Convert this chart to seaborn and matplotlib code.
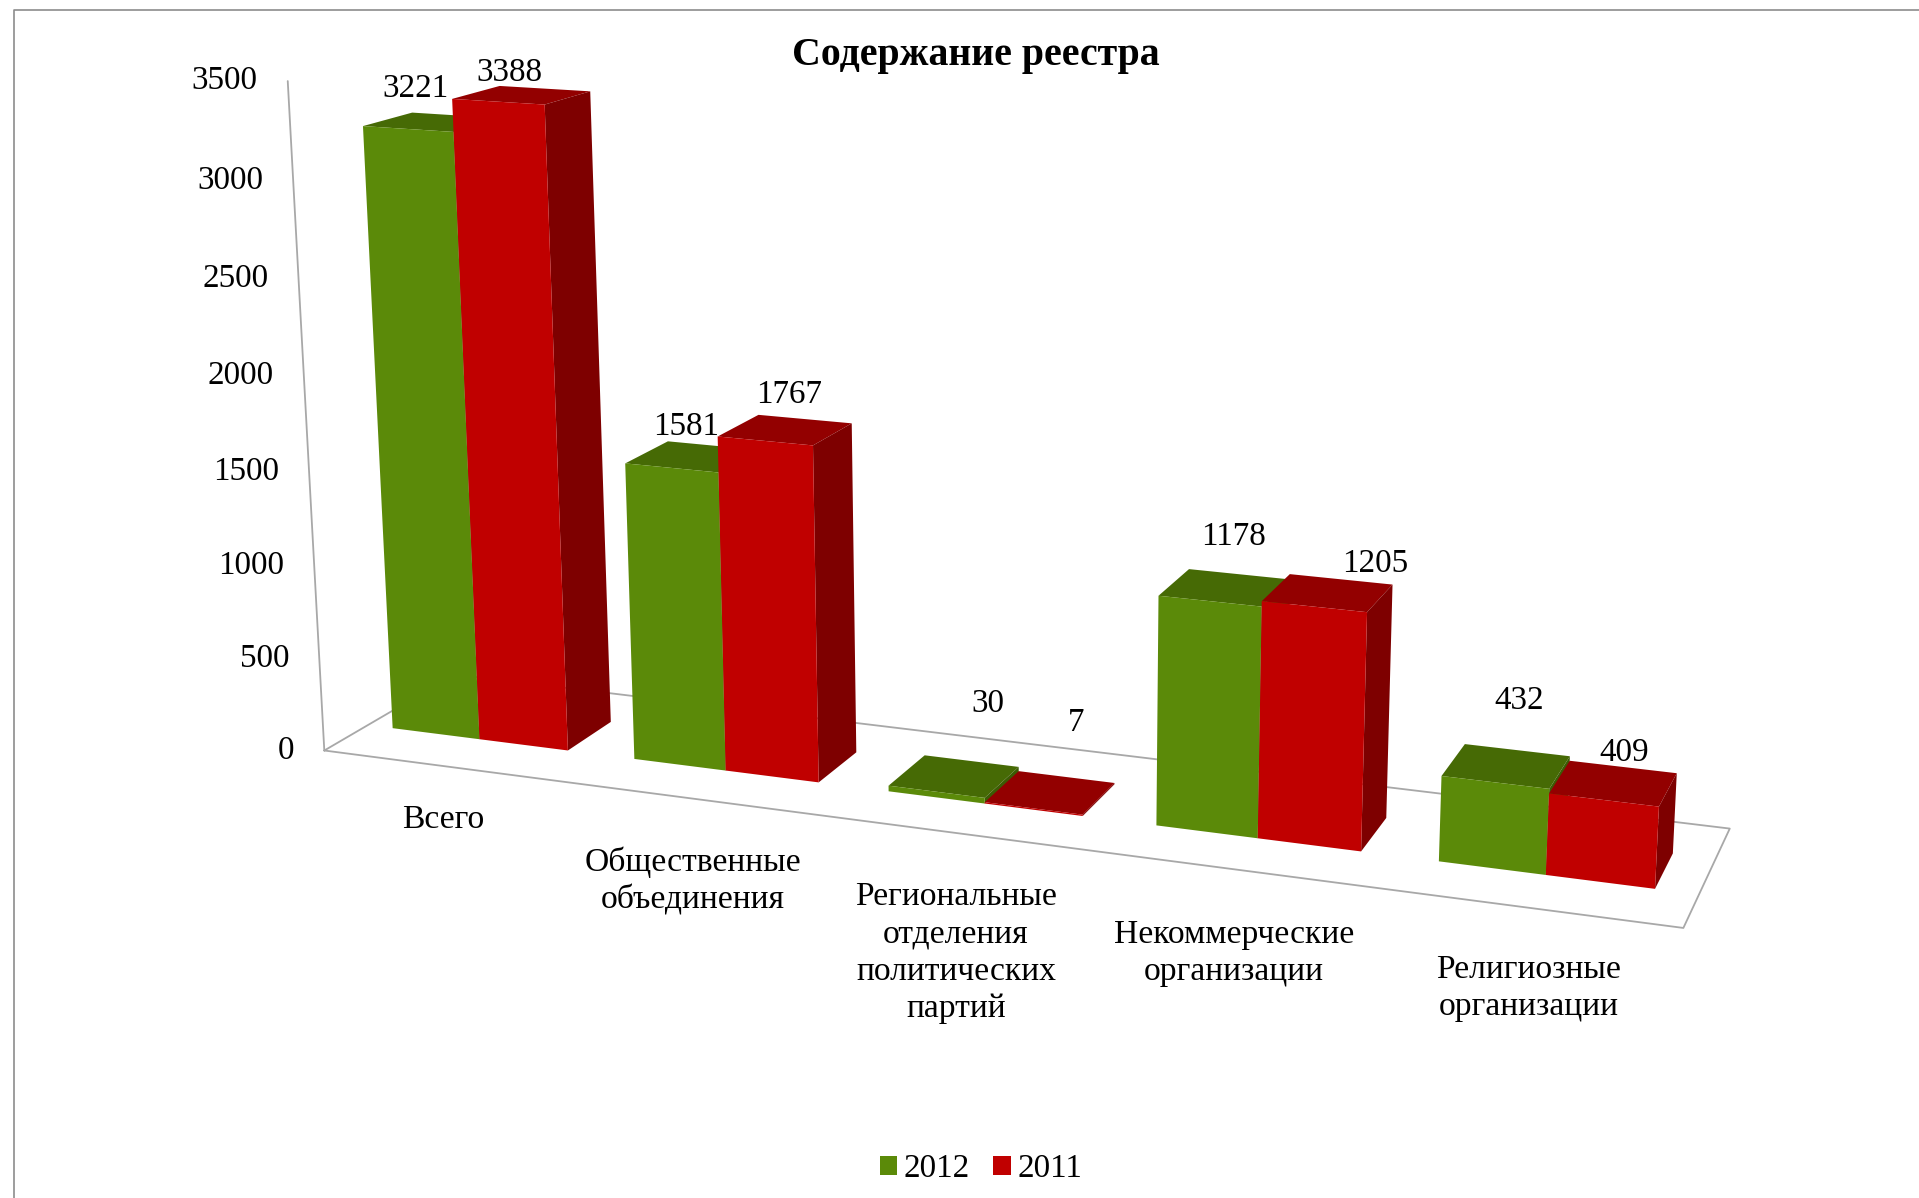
import matplotlib
matplotlib.use('Agg')
import matplotlib.pyplot as plt
import numpy as np
import pandas as pd
import seaborn as sns
from matplotlib.patches import Polygon
from matplotlib.transforms import Affine2D, Transform

categories = ['Всего', 'Общественные\nобъединения', 'Региональные\nотделения\nполитических\nпартий',
              'Некоммерческие\nорганизации', 'Религиозные\nорганизации']
values_2012 = [3221, 1581, 30, 1178, 432]
values_2011 = [3388, 1767, 7, 1205, 409]
years = ['2012', '2011']
value_ticks = [0, 500, 1000, 1500, 2000, 2500, 3000, 3500]

GREEN, GREEN_TOP, GREEN_SIDE = '#5b8a09', '#466a05', '#3c5c04'
RED, RED_TOP, RED_SIDE = '#c00000', '#930000', '#7e0000'
GRID = '#a8a8a8'
W, H = 1919, 1198
BAR_W = 0.73
Y_FRONT, Y_BACK = 0.32, 0.68
X_MIN, X_MAX = -0.47, 4.51
TEXT_DY = 3
FONT = 24.2
NUM_FONT = 23.9

# camera calibration: (category axis, depth, value) -> picture pixel
CALIB = [
    ((-.365, Y_FRONT, 0), (394, 729)), ((0, Y_FRONT, 0), (480, 740)), ((.365, Y_FRONT, 0), (569, 751)),
    ((.365, Y_BACK, 0), (612, 721)), ((-.365, Y_FRONT, 3221), (364, 127)), ((0, Y_FRONT, 3388), (452, 99)),
    ((.365, Y_FRONT, 3388), (544, 104)), ((.365, Y_BACK, 3388), (591, 90)), ((-.365, Y_BACK, 3221), (413, 113)),
    ((.635, Y_FRONT, 1581), (626, 464)), ((1, Y_FRONT, 1767), (717, 437)), ((1.365, Y_FRONT, 1767), (813, 445)),
    ((1.365, Y_BACK, 1767), (852, 423)), ((1.635, Y_FRONT, 0), (890, 792)), ((2, Y_FRONT, 0), (983, 805)),
    ((2.365, Y_FRONT, 0), (1082, 816)), ((2.365, Y_BACK, 7), (1116, 783)), ((1.635, Y_BACK, 30), (925, 755)),
    ((2.635, Y_FRONT, 0), (1156, 827)), ((3, Y_FRONT, 0), (1257, 837)), ((3.365, Y_FRONT, 0), (1360, 852)),
    ((2.635, Y_FRONT, 1178), (1158, 596)), ((3.365, Y_FRONT, 1205), (1367, 612)),
    ((3.365, Y_BACK, 1205), (1392, 583)), ((3.365, Y_BACK, 0), (1387, 815)),
    ((3.635, Y_FRONT, 0), (1439, 862)), ((4, Y_FRONT, 0), (1546, 877)), ((4.365, Y_FRONT, 0), (1656, 889)),
    ((4.365, Y_BACK, 0), (1674, 853)), ((4.365, Y_FRONT, 409), (1659, 807)), ((4.365, Y_BACK, 409), (1678, 772)),
    ((4, Y_FRONT, 409), (1549, 794)), ((3.635, Y_FRONT, 432), (1442, 777)), ((3.635, Y_BACK, 432), (1465, 743)),
    ((X_MIN, 0, 0), (323, 747)), ((X_MAX, 0, 0), (1683, 926)), ((X_MAX, 1, 0), (1727, 831)), ((X_MIN, 1, 0), (452, 675)),
    ((X_MIN, 0, 3500), (286, 82)),
]

# text anchors in picture pixels
LABEL_POS = {3221: (416, 86), 3388: (509, 70), 1581: (686, 424), 1767: (789, 392), 30: (988, 701),
             7: (1076, 720), 1178: (1233, 534), 1205: (1375, 561), 432: (1519, 698), 409: (1624, 750)}
CAT_POS = [(443, 817), (693, 878), (956, 950), (1234, 950), (1529, 985)]


def fit_camera(calib):
    rows = []
    for (x, y, z), (u, v) in calib:
        p = [x, y, z / 1000, 1]
        u, v = u / 1000, v / 1000
        rows.append(p + [0, 0, 0, 0] + [-u * c for c in p])
        rows.append([0, 0, 0, 0] + p + [-v * c for c in p])
    return np.linalg.svd(np.array(rows))[2][-1].reshape(3, 4)


CAM = fit_camera(CALIB)


def project(x, y, z):
    pts = np.column_stack([x, y, np.asarray(z, dtype=float) / 1000, np.ones(len(x))])
    out = pts @ CAM.T
    return out[:, :2] / out[:, 2:] * 1000


class FrontPlane(Transform):
    # (category position, value) -> pixel, on the plane of the bar fronts
    input_dims = 2
    output_dims = 2

    def transform_non_affine(self, values):
        values = np.asarray(values)
        return project(values[:, 0], np.full(len(values), Y_FRONT), values[:, 1])


sns.set_theme(style='white', font='Liberation Serif')
plt.rcParams['font.size'] = FONT

df = pd.DataFrame({
    'category': categories * 2,
    'year': [years[0]] * 5 + [years[1]] * 5,
    'value': values_2012 + values_2011,
})

fig = plt.figure(figsize=(W / 100, H / 100), dpi=100)
ax = fig.add_axes([0, 0, 1, 1])
sns.barplot(data=df, x='category', y='value', hue='year', hue_order=years, palette=[GREEN, RED],
            width=BAR_W, gap=0, saturation=1, linewidth=0, ax=ax)
leg_handles, leg_labels = ax.get_legend_handles_labels()
ax.get_legend().remove()
ax.set_axis_off()

pix = Affine2D().scale(1, -1).translate(0, H)
front = FrontPlane() + pix


def line(pts, color=GRID, lw=1.3):
    pts = np.asarray(pts)
    ax.plot(pts[:, 0], pts[:, 1], color=color, lw=lw, transform=pix, clip_on=False,
            scalex=False, scaley=False, zorder=1)


# chart frame, cut by the picture edge
line([(13.5, H), (13.5, 10), (W, 10)], color='#8c8c8c', lw=1.2)
# floor and value axis
line(project([X_MIN, X_MAX, X_MAX, X_MIN, X_MIN], [0, 0, 1, 1, 0], [0] * 5))
line(project([X_MIN, X_MIN], [0, 0], [0, 3500]))

# front faces come from seaborn, tops and sides follow each bar's geometry
shades = [(GREEN_TOP, GREEN_SIDE), (RED_TOP, RED_SIDE)]
for h, container in enumerate(ax.containers):
    for i, bar in enumerate(container):
        x0, x1, val = bar.get_x(), bar.get_x() + bar.get_width(), bar.get_height()
        base = 10 + i * 10 + h * 3
        top = project([x0, x1, x1, x0], [Y_FRONT, Y_FRONT, Y_BACK, Y_BACK], [val] * 4)
        side = project([x1, x1, x1, x1], [Y_FRONT, Y_BACK, Y_BACK, Y_FRONT], [0, 0, val, val])
        ax.add_patch(Polygon(top, closed=True, fc=shades[h][0], ec='none', transform=pix,
                             clip_on=False, zorder=base))
        ax.add_patch(Polygon(side, closed=True, fc=shades[h][1], ec='none', transform=pix,
                             clip_on=False, zorder=base + 1))
        bar.set_transform(front)
        bar.set_clip_on(False)
        bar.set_zorder(base + 2)

for tick, (px, py) in zip(value_ticks, project([X_MIN] * 8, [0] * 8, value_ticks)):
    ax.text(px - 30, py + TEXT_DY - 3, str(tick), ha='right', va='center', transform=pix,
            color='black', fontsize=NUM_FONT)

for val in values_2012 + values_2011:
    px, py = LABEL_POS[val]
    ax.text(px, py + TEXT_DY, str(val), ha='center', va='center', transform=pix, color='black',
            fontsize=NUM_FONT, zorder=100)

for name, (px, py) in zip(categories, CAT_POS):
    ax.text(px, py + TEXT_DY, name, ha='center', va='center', transform=pix, color='black', linespacing=1.29)

ax.text(976, 56, 'Содержание реестра', ha='center', va='center', transform=pix, color='black',
        fontsize=28.7, fontweight='bold')

ax.legend(leg_handles, leg_labels, loc='center', bbox_to_anchor=(981 / W, 1 - 1169 / H), ncol=2,
          frameon=False, handlelength=0.52, handleheight=0.52, handletextpad=0.2, columnspacing=0.7,
          fontsize=NUM_FONT, labelcolor='black')

fig.savefig('out.png', dpi=100)
